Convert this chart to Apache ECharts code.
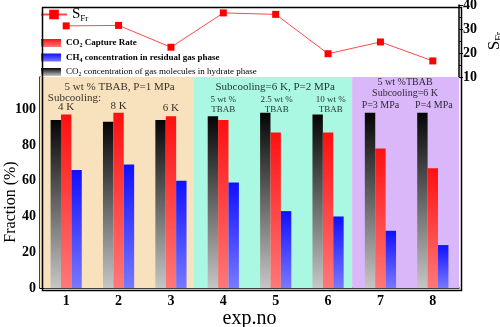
<!DOCTYPE html>
<html><head><meta charset="utf-8">
<script src="https://cdn.jsdelivr.net/npm/echarts@6/dist/echarts.min.js"></script>
<style>html,body{margin:0;padding:0;background:#fff}#c{width:500px;height:327px}</style>
</head><body><div id="c"></div>
<script>
// Experiment numbers and measured quantities
const expNo = ['1', '2', '3', '4', '5', '6', '7', '8'];
const sFr = [31.3, 31.5, 22.4, 36.7, 36.1, 19.7, 24.6, 16.7];
const co2Hydrate = [94, 93, 94, 96, 98, 97, 98, 98];
const co2Capture = [97, 98, 96, 94, 87, 87, 78, 67];
const ch4Residual = [66, 69, 60, 59, 43, 40, 32, 24];
const sFrTicks = [10, 20, 30, 40];
const fractionTicks = [0, 20, 40, 60, 80, 100];

// Experimental condition groups along the experiment axis
const groupSpans = [[0.5, 3.44], [3.44, 6.46], [6.46, 8.5]];
const groupColors = ['#F7E2BD', '#AAF8E2', '#D9B7F9'];
// Condition notes: [experiment position, fraction level, text, font size, align]
const groupNotes = [
  [2.02, 112.4, '5 wt % TBAB, P=1 MPa', 11, 'center'],
  [0.65, 106.4, 'Subcooling:', 11, 'left'],
  [1, 101.2, '4 K', 11, 'center'],
  [2, 102.0, '8 K', 11, 'center'],
  [3, 100.6, '6 K', 11, 'center'],
  [4.99, 112.4, 'Subcooling=6 K, P=2 MPa', 11, 'center'],
  [4, 102.6, '5 wt %\nTBAB', 9, 'center'],
  [5.02, 102.6, '2.5 wt %\nTBAB', 9, 'center'],
  [6.05, 102.6, '10 wt %\nTBAB', 9, 'center'],
  [7.47, 111.7, '5 wt %TBAB\nSubcooling=6 K', 10, 'center'],
  [7.0, 102.0, 'P=3 MPa', 10, 'center'],
  [8.02, 102.0, 'P=4 MPa', 10, 'center']
];

const L = 40, R = 41, T = 5, MID = 77, B = 39;
const FONT = 'Liberation Serif';

function grad(top, bottom) {
  return new echarts.graphic.LinearGradient(0, 0, 0, 1, [
    { offset: 0, color: top }, { offset: 1, color: bottom }
  ]);
}

const chart = echarts.init(document.getElementById('c'), null, { renderer: 'canvas' });

const subRich = {
  n: { fontFamily: FONT, fontSize: 9, color: '#000' },
  s: { fontFamily: FONT, fontSize: 6, color: '#000', padding: [5, 0, 0, 0] },
  b: { fontFamily: FONT, fontSize: 9, fontWeight: 'bold', color: '#000' },
  bs: { fontFamily: FONT, fontSize: 6, fontWeight: 'bold', color: '#000', padding: [5, 0, 0, 0] }
};
const legendText = {
  'CO2 Capture Rate': '{b|CO}{bs|2}{b| Capture Rate}',
  'CH4 concentration in residual gas phase': '{b|CH}{bs|4}{b| concentration in residual gas phase}',
  'CO2 concentration of gas molecules in hydrate phase': '{n|CO}{s|2}{n| concentration of gas molecules in hydrate phase}'
};

chart.setOption({
  animation: false,
  backgroundColor: '#fff',
  grid: [
    { left: L, right: R, top: T, height: MID - T, outerBoundsMode: 'none', containLabel: false },
    { left: L, right: R, top: MID, bottom: B, outerBoundsMode: 'none', containLabel: false }
  ],
  legend: [
    {
      data: ['SFr'], left: L, top: 7, itemWidth: 26, itemHeight: 12, padding: 0,
      formatter: () => '{m|S}{s|Fr}',
      textStyle: {
        rich: {
          m: { fontFamily: FONT, fontSize: 15, color: '#000' },
          s: { fontFamily: FONT, fontSize: 9, color: '#000', padding: [8, 0, 0, 0] }
        }
      }
    },
    {
      data: ['CO2 Capture Rate', 'CH4 concentration in residual gas phase',
             'CO2 concentration of gas molecules in hydrate phase'],
      orient: 'vertical', left: L + 1, top: 38.5, itemWidth: 20, itemHeight: 8, itemGap: 4.5,
      padding: 0, icon: 'rect',
      formatter: name => legendText[name],
      textStyle: { rich: subRich }
    }
  ],
  xAxis: [
    { type: 'category', gridIndex: 0, data: expNo, show: false },
    {
      type: 'category', gridIndex: 1, data: expNo,
      axisLine: { lineStyle: { color: '#000', width: 1.5 } },
      axisTick: { show: false },
      axisLabel: { fontFamily: FONT, fontWeight: 'bold', fontSize: 14, color: '#000', margin: 6 },
      name: 'exp.no', nameLocation: 'middle', nameGap: 21, nameMoveOverlap: false,
      nameTextStyle: { fontFamily: FONT, fontSize: 20, color: '#000' }
    },
    { type: 'value', gridIndex: 1, min: 0.5, max: 8.5, show: false }
  ],
  yAxis: [
    {
      type: 'value', gridIndex: 0, position: 'right', min: sFrTicks[0],
      max: sFrTicks[sFrTicks.length - 1], interval: 10,
      splitLine: { show: false },
      axisLine: { show: true, lineStyle: { color: '#000', width: 1.5 } },
      axisTick: { show: true, inside: false, length: 4, lineStyle: { color: '#000' } },
      minorTick: { show: true, splitNumber: 2, length: 2, lineStyle: { color: '#000' } },
      axisLabel: { fontFamily: FONT, fontWeight: 'bold', fontSize: 14, color: '#000', margin: 4 },
      name: '{m|S}{s|Fr}', nameLocation: 'middle', nameGap: 26, nameRotate: 90,
      nameMoveOverlap: false,
      nameTextStyle: {
        rich: {
          m: { fontFamily: FONT, fontSize: 17, color: '#000' },
          s: { fontFamily: FONT, fontSize: 10, color: '#000', padding: [9, 0, 0, 0] }
        }
      }
    },
    {
      type: 'value', gridIndex: 1, min: 0, max: 118, interval: 20,
      splitLine: { show: false },
      axisLine: { show: true, lineStyle: { color: '#000', width: 1.5 } },
      axisTick: { show: true, inside: true, length: 4, lineStyle: { color: '#000' } },
      minorTick: { show: true, splitNumber: 2, length: 2, lineStyle: { color: '#000' } },
      axisLabel: {
        fontFamily: FONT, fontWeight: 'bold', fontSize: 14, color: '#000', margin: 4,
        formatter: v => (fractionTicks.indexOf(v) >= 0 ? String(v) : '')
      }
    }
  ],
  series: [
    {
      name: 'SFr', type: 'line', xAxisIndex: 0, yAxisIndex: 0, data: sFr,
      symbol: 'rect', symbolSize: 7,
      itemStyle: { color: '#ff0000' },
      lineStyle: { color: '#ff4a4a', width: 1 }
    },
    {
      name: 'groups', type: 'line', xAxisIndex: 2, yAxisIndex: 1, data: [], z: 0,
      markArea: {
        silent: true,
        data: groupSpans.map((s, i) => [
          { xAxis: s[0], itemStyle: { color: groupColors[i] } },
          { xAxis: s[1] }
        ])
      }
    },
    {
      name: 'CO2 concentration of gas molecules in hydrate phase', type: 'bar',
      xAxisIndex: 1, yAxisIndex: 1, data: co2Hydrate, barWidth: 10.4, barGap: '0%', z: 2,
      itemStyle: { color: grad('#050505', '#c6c6c6') }
    },
    {
      name: 'CO2 Capture Rate', type: 'bar',
      xAxisIndex: 1, yAxisIndex: 1, data: co2Capture, barWidth: 10.4, barGap: '0%', z: 2,
      itemStyle: { color: grad('#ff1010', '#ff7878') }
    },
    {
      name: 'CH4 concentration in residual gas phase', type: 'bar',
      xAxisIndex: 1, yAxisIndex: 1, data: ch4Residual, barWidth: 10.4, barGap: '0%', z: 2,
      itemStyle: { color: grad('#1010ff', '#7878ff') }
    },
    {
      name: 'notes', type: 'scatter', xAxisIndex: 2, yAxisIndex: 1, symbolSize: 0, z: 3,
      silent: true,
      data: groupNotes.map(n => ({
        value: [n[0], n[1]],
        label: {
          show: true, position: 'inside', formatter: n[2], fontSize: n[3], align: n[4],
          fontFamily: FONT, color: '#000', lineHeight: n[3] + 1
        }
      }))
    }
  ],
  graphic: [
    {
      type: 'rect', left: L, top: T, z: 10, silent: true,
      shape: { width: 500 - L - R, height: 327 - T - B },
      style: { fill: 'none', stroke: '#000', lineWidth: 1.5 }
    },
    {
      // left axis title, rotated to read upward
      type: 'text', x: 11, y: 202, rotation: Math.PI / 2, z: 10, silent: true,
      style: {
        text: 'Fraction (%)', font: '16px "Liberation Serif"', fill: '#000',
        align: 'center', verticalAlign: 'middle'
      }
    }
  ]
});
</script></body></html>
